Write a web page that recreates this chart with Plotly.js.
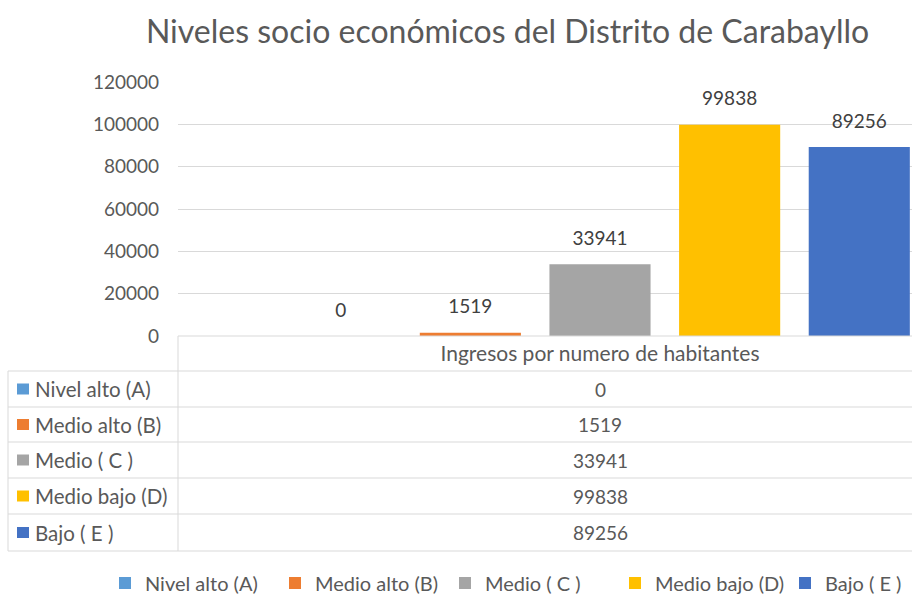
<!DOCTYPE html>
<html>
<head>
<meta charset="utf-8">
<script src="https://cdn.plot.ly/plotly-3.0.1.min.js"></script>
<style>html,body{margin:0;padding:0;background:#fff;}#chart{width:912px;height:595px;}</style>
</head>
<body>
<div id="chart"></div>
<script>
// ---- data ----
const chartTitle = "Niveles socio económicos del Distrito de Carabayllo";
const categories = ["Ingresos por numero de habitantes"];
const seriesNames = ["Nivel alto (A)", "Medio alto (B)", "Medio ( C )", "Medio bajo (D)", "Bajo ( E )"];
const seriesValues = [0, 1519, 33941, 99838, 89256];
const seriesColors = ["#5B9BD5", "#ED7D31", "#A5A5A5", "#FFC000", "#4472C4"];
const yTickValues = [0, 20000, 40000, 60000, 80000, 100000, 120000];

// ---- layout helpers (pixel geometry of the figure) ----
const W = 912, H = 595;
const M = {l: 178, r: 0, t: 82, b: 259, autoexpand: false};
const plotW = W - M.l - M.r, plotH = H - M.t - M.b;
const px2x = px => (px - M.l) / plotW;
const px2y = py => (H - M.b - py) / plotH;

const FONT = "Lato, 'Open Sans', sans-serif";
const TXT = "#595959";
const GRID = "#D9D9D9";
const BARGAP = 0.232;
const NUM_SIZE = 19, LABEL_SIZE = 20.5;

const traces = [];
seriesNames.forEach((name, i) => {
  traces.push({
    type: "bar", name: name, x: categories, y: [seriesValues[i]],
    marker: {color: seriesColors[i]}, hoverinfo: "skip",
    legendgroup: name
  });
});
seriesNames.forEach((name, i) => {
  traces.push({
    type: "scatter", mode: "markers+text", x: categories, y: [seriesValues[i]],
    text: [String(seriesValues[i])], textposition: "top center",
    textfont: {family: FONT, size: NUM_SIZE, color: "#404040"},
    marker: {size: 22, opacity: 0, color: seriesColors[i]},
    showlegend: false, hoverinfo: "skip", cliponaxis: false, legendgroup: name
  });
});

// ---- data table under the axis ----
const rowLines = [371, 407, 442, 478, 514, 551];
const shapes = [];
const annotations = [];
const lineStyle = {color: GRID, width: 1};
shapes.push({type: "line", xref: "paper", yref: "paper", x0: px2x(178), x1: 1, y0: px2y(336), y1: px2y(336), line: lineStyle});
rowLines.forEach(py => {
  shapes.push({type: "line", xref: "paper", yref: "paper", x0: px2x(8), x1: 1, y0: px2y(py), y1: px2y(py), line: lineStyle});
});
shapes.push({type: "line", xref: "paper", yref: "paper", x0: px2x(178), x1: px2x(178), y0: px2y(336), y1: px2y(551), line: lineStyle});
shapes.push({type: "line", xref: "paper", yref: "paper", x0: px2x(8), x1: px2x(8), y0: px2y(371), y1: px2y(551), line: lineStyle});

seriesNames.forEach((name, i) => {
  const yc = (rowLines[i] + rowLines[i + 1]) / 2;
  shapes.push({type: "rect", xref: "paper", yref: "paper", x0: px2x(17), x1: px2x(29), y0: px2y(yc - 5.5), y1: px2y(yc + 5.5),
    fillcolor: seriesColors[i], line: {width: 0}});
  annotations.push({xref: "paper", yref: "paper", x: px2x(33), y: px2y(yc), xanchor: "left", yanchor: "middle",
    text: name, showarrow: false, font: {family: FONT, size: LABEL_SIZE, color: TXT}});
  annotations.push({xref: "x", yref: "paper", x: categories[0], y: px2y(yc), xanchor: "center", yanchor: "middle",
    text: String(seriesValues[i]), showarrow: false, font: {family: FONT, size: NUM_SIZE, color: TXT}});
});

const layout = {
  width: W, height: H,
  margin: M,
  paper_bgcolor: "#fff", plot_bgcolor: "#fff",
  font: {family: FONT, color: TXT, size: NUM_SIZE},
  title: {text: chartTitle, font: {family: FONT, size: 32, color: TXT},
    x: 507.5 / W, xanchor: "center", y: 1 - 32 / H, yanchor: "middle"},
  barmode: "group", bargap: BARGAP, bargroupgap: 0.22,
  scattermode: "group", scattergap: BARGAP,
  xaxis: {type: "category", range: [-0.5, -0.5 + plotW / 844], showgrid: false, zeroline: false,
    showline: false, ticks: "", ticklabelstandoff: 3, tickfont: {family: FONT, size: 21, color: TXT},
    fixedrange: true},
  yaxis: {range: [0, 120000], tickvals: yTickValues, ticktext: yTickValues.map(String),
    showgrid: true, gridcolor: GRID, gridwidth: 1, zeroline: false, showline: false, ticks: "",
    ticklabelstandoff: 18, tickfont: {family: FONT, size: NUM_SIZE, color: TXT}, fixedrange: true},
  legend: {orientation: "h", xref: "paper", yref: "paper", x: px2x(105), xanchor: "left",
    y: px2y(583), yanchor: "middle", bgcolor: "rgba(0,0,0,0)",
    entrywidth: 125, entrywidthmode: "pixels",
    font: {family: FONT, size: 20, color: TXT}, traceorder: "normal", itemclick: false, itemdoubleclick: false},
  shapes: shapes,
  annotations: annotations,
  showlegend: true
};

Plotly.newPlot("chart", traces, layout, {displayModeBar: false, staticPlot: true});
</script>
</body>
</html>
